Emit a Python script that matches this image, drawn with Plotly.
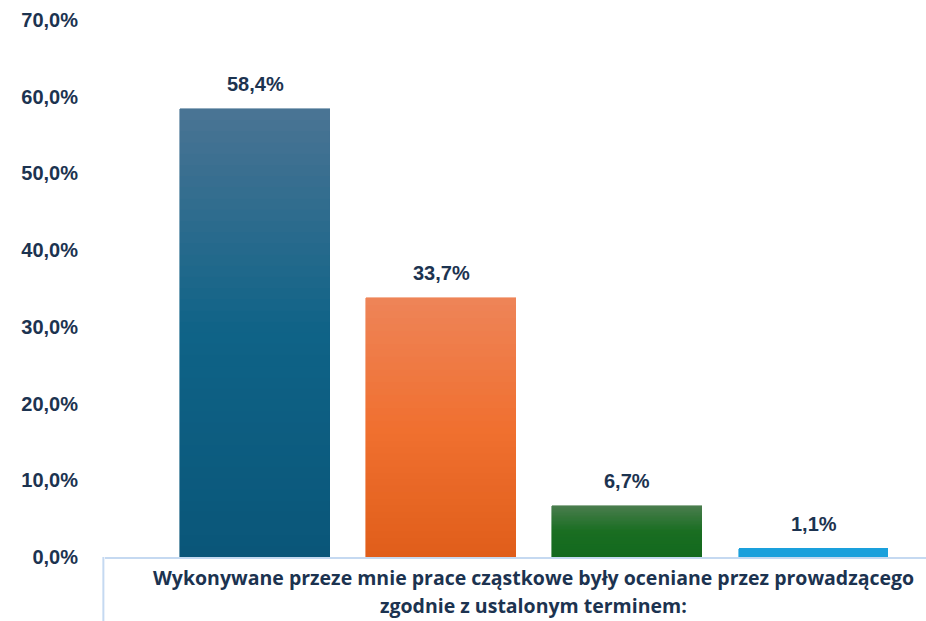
import plotly.graph_objects as go

# ---- data ----
series_names = ["Tak", "Raczej tak", "Raczej nie", "Nie"]
values = [58.4, 33.7, 6.7, 1.1]
value_labels = ["58,4%", "33,7%", "6,7%", "1,1%"]
y_tick_vals = [0, 10, 20, 30, 40, 50, 60, 70]
y_tick_text = ["0,0%", "10,0%", "20,0%", "30,0%", "40,0%", "50,0%", "60,0%", "70,0%"]
category_label_lines = [
    "Wykonywane przeze mnie prace cząstkowe były oceniane przez prowadzącego",
    "zgodnie z ustalonym terminem:",
]

# gradient stops (bottom, middle, top) per bar
grad_bottom = [(10, 86, 121), (224, 94, 26), (19, 105, 30), (27, 160, 220)]
grad_mid = [(15, 99, 135), (240, 112, 48), (26, 110, 34), (27, 160, 220)]
grad_top = [(74, 116, 148), (238, 132, 88), (74, 125, 78), (27, 160, 220)]

TEXT = "#1c3350"
AXIS = "#c5d9f1"
N = 40
xs = list(range(len(values)))


def mix(a, b, t):
    return tuple(round(a[i] + (b[i] - a[i]) * t) for i in range(3))


fig = go.Figure()
for k in range(N):
    t = (k + 0.5) / N
    colors = []
    for i in xs:
        if t < 0.5:
            c = mix(grad_bottom[i], grad_mid[i], t / 0.5)
        else:
            c = mix(grad_mid[i], grad_top[i], (t - 0.5) / 0.5)
        colors.append("rgb(%d,%d,%d)" % c)
    fig.add_trace(go.Bar(
        x=xs, y=[v / N for v in values], width=0.805,
        marker=dict(color=colors, line=dict(color=colors, width=0.6)),
        showlegend=False, hoverinfo="skip",
    ))

for i in xs:
    fig.add_annotation(x=xs[i], y=values[i], text=value_labels[i], showarrow=False,
                       yanchor="bottom", yshift=12,
                       font=dict(family="Liberation Sans", size=20, color=TEXT, weight="bold"))

line_y = [-0.0391, -0.0912]
for j, line in enumerate(category_label_lines):
    fig.add_annotation(xref="paper", yref="paper", x=0.5225, y=line_y[j], text=line,
                       showarrow=False, yanchor="middle", xanchor="center",
                       font=dict(family="Open Sans", size=19.5, color=TEXT, weight="bold"))

# category box line (left edge)
fig.add_shape(type="line", xref="paper", yref="paper", x0=-0.002, x1=-0.002, y0=0, y1=-0.2,
              line=dict(color=AXIS, width=2))

fig.update_layout(
    barmode="stack", bargap=0,
    width=926, height=621,
    margin=dict(l=105, r=0, t=20, b=64),
    paper_bgcolor="white", plot_bgcolor="white",
    xaxis=dict(range=[-0.806, 3.604], showticklabels=False, showgrid=False, zeroline=False,
               showline=True, linecolor=AXIS, linewidth=2, ticks=""),
    yaxis=dict(range=[0, 70], tickvals=y_tick_vals, ticktext=y_tick_text, showgrid=False,
               zeroline=False, showline=False, ticks="outside", ticklen=22,
               tickcolor="rgba(0,0,0,0)",
               tickfont=dict(family="Liberation Sans", size=20, color=TEXT, weight="bold")),
)

fig.write_html("out.html", config={"displayModeBar": False},
               post_script="document.body.style.margin='0';document.body.style.overflow='hidden';")
